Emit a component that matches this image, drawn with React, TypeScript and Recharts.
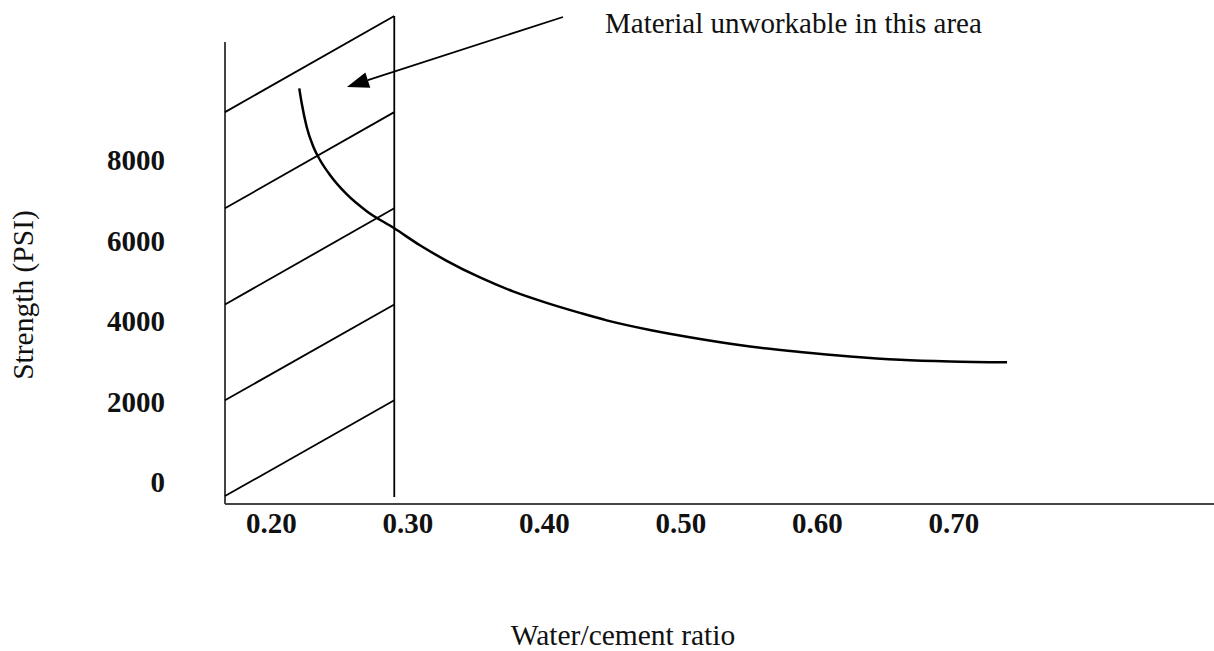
import React from 'react'
import { LineChart, Line, XAxis, YAxis, ReferenceLine } from 'recharts'

// curve: water/cement ratio vs strength (PSI)
const ratio = [
  0.2204, 0.2222, 0.2258, 0.2307, 0.2356, 0.2429, 0.2551, 0.2698, 0.29, 0.3088, 0.3284, 0.3528,
  0.377, 0.4016, 0.426, 0.4456, 0.4773, 0.514, 0.5506, 0.5872, 0.6238, 0.6605, 0.6971, 0.7389,
]
const strength = [
  9781, 9409, 8827, 8330, 8000, 7627, 7150, 6728, 6303, 5881, 5496, 5081,
  4735, 4450, 4201, 4015, 3776, 3553, 3366, 3230, 3118, 3036, 2994, 2974,
]

const xTicks = [0.2, 0.3, 0.4, 0.5, 0.6, 0.7]
const yTicks = [0, 2000, 4000, 6000, 8000]
const xDomain = [0.166, 0.8905]
const yDomain = [-547, 11578]
const yAxisTop = 10930

// unworkable zone: right edge and the heights where the hatch lines meet the edges
const zoneEdge = 0.29
const hatchSteps = [-350, 2030, 4410, 6800, 9190, 11580]
const zoneBottom = -370

// arrow pointing into the zone
const arrowTail = { x: 0.4136, y: 11553 }
const arrowTip = { x: 0.2553, y: 9814 }

const data = ratio.map((r, i) => ({ r, s: strength[i] }))

const serif = '"Liberation Serif", "Times New Roman", serif'

const Arrow = (p: any) => {
  const { x1, y1, x2, y2 } = p
  const dx = x2 - x1
  const dy = y2 - y1
  const len = Math.sqrt(dx * dx + dy * dy) || 1
  const ux = dx / len
  const uy = dy / len
  const bx = x2 - ux * 22
  const by = y2 - uy * 22
  const px = -uy * 8
  const py = ux * 8
  return (
    <g>
      <line x1={x1} y1={y1} x2={bx} y2={by} stroke="#000" strokeWidth={1.8} />
      <polygon points={`${x2},${y2} ${bx + px},${by + py} ${bx - px},${by - py}`} fill="#000" />
    </g>
  )
}

export default function App() {
  const tickFont = { fontFamily: serif, fontSize: 29, fontWeight: 'bold', fill: '#111' }
  return (
    <div style={{ position: 'absolute', left: 0, top: 0, width: 1214, height: 651, background: '#fff' }}>
      <LineChart width={1214} height={651} data={data} margin={{ top: 16, right: 0, bottom: 87, left: 105 }}>
        <XAxis
          dataKey="r"
          type="number"
          domain={xDomain}
          allowDataOverflow
          ticks={xTicks}
          tickFormatter={(v: number) => v.toFixed(2)}
          tickLine={false}
          axisLine={{ stroke: '#444', strokeWidth: 2 }}
          tick={tickFont}
          height={60}
        />
        <YAxis
          type="number"
          domain={yDomain}
          allowDataOverflow
          ticks={yTicks}
          axisLine={false}
          tickLine={false}
          tickSize={0}
          tickMargin={60}
          tick={tickFont}
          width={120}
        />
        <ReferenceLine
          segment={[{ x: xDomain[0], y: yDomain[0] }, { x: xDomain[0], y: yAxisTop }]}
          stroke="#444"
          strokeWidth={2}
          ifOverflow="visible"
        />
        <ReferenceLine
          segment={[{ x: zoneEdge, y: zoneBottom }, { x: zoneEdge, y: hatchSteps[hatchSteps.length - 1] }]}
          stroke="#000"
          strokeWidth={1.8}
          ifOverflow="visible"
        />
        {hatchSteps.slice(0, -1).map((h, i) => (
          <ReferenceLine
            key={i}
            segment={[{ x: xDomain[0], y: h }, { x: zoneEdge, y: hatchSteps[i + 1] }]}
            stroke="#000"
            strokeWidth={1.8}
            ifOverflow="visible"
          />
        ))}
        <ReferenceLine
          segment={[arrowTail, arrowTip]}
          shape={Arrow}
          ifOverflow="visible"
        />
        <Line
          type="monotone"
          dataKey="s"
          stroke="#000"
          strokeWidth={2.5}
          dot={false}
          activeDot={false}
          isAnimationActive={false}
        />
      </LineChart>
      <svg width={1214} height={651} style={{ position: 'absolute', left: 0, top: 0, pointerEvents: 'none' }}>
        <text x={605} y={33} fontFamily={serif} fontSize={29} fill="#111">
          Material unworkable in this area
        </text>
        <text x={623} y={645} textAnchor="middle" fontFamily={serif} fontSize={29.5} fill="#111">
          Water/cement ratio
        </text>
        <text
          x={33}
          y={295}
          textAnchor="middle"
          fontFamily={serif}
          fontSize={29.5}
          fill="#111"
          transform="rotate(-90, 33, 295)"
        >
          Strength (PSI)
        </text>
      </svg>
    </div>
  )
}
